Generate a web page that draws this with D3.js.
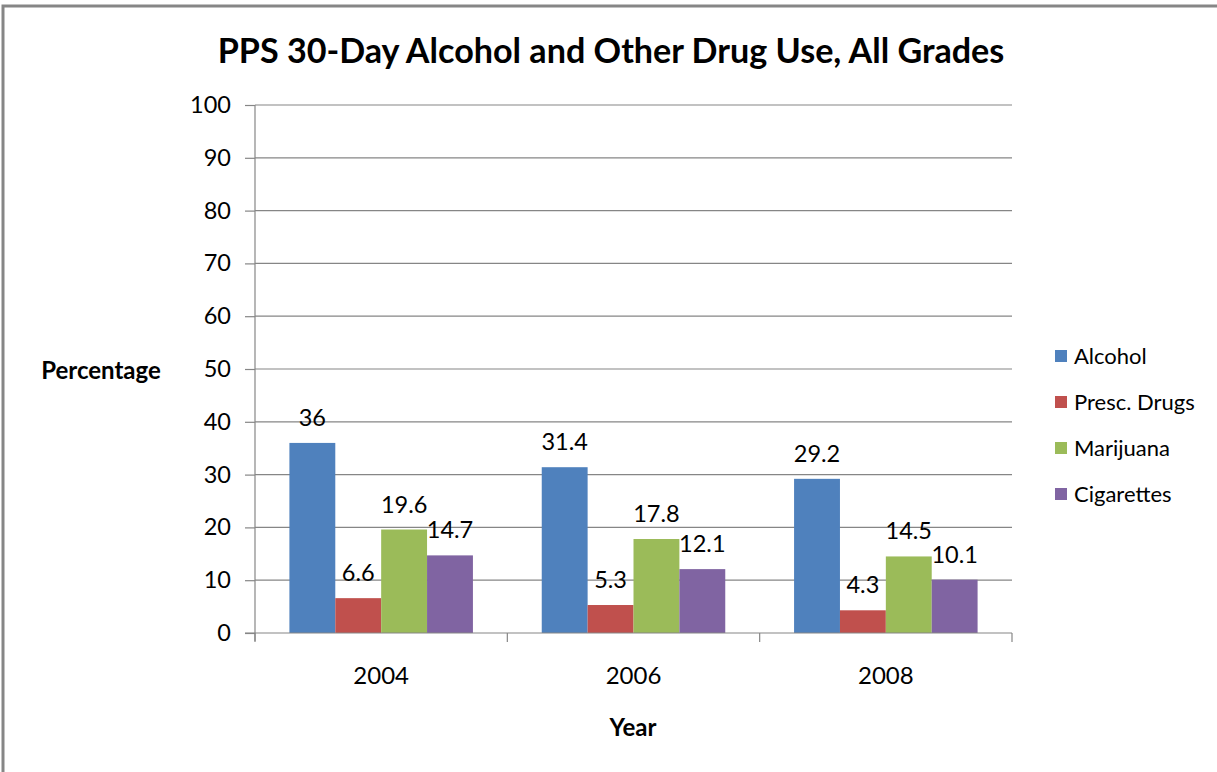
<!DOCTYPE html>
<html><head><meta charset="utf-8">
<script src="https://cdn.jsdelivr.net/npm/d3@7"></script>
<style>html,body{margin:0;padding:0;background:#fff;} svg{display:block;}</style>
</head><body>
<svg id="c" width="1217" height="772"></svg>
<script>
const years = ["2004", "2006", "2008"];
const seriesNames = ["Alcohol", "Presc. Drugs", "Marijuana", "Cigarettes"];
const alcohol = [36, 31.4, 29.2];
const prescDrugs = [6.6, 5.3, 4.3];
const marijuana = [19.6, 17.8, 14.5];
const cigarettes = [14.7, 12.1, 10.1];
const yTickValues = [0, 10, 20, 30, 40, 50, 60, 70, 80, 90, 100];
const colors = ["#4F81BD", "#C0504D", "#9BBB59", "#8064A2"];

const seriesValues = [alcohol, prescDrugs, marijuana, cigarettes];
const FONT = "Lato, 'Open Sans', sans-serif";
const svg = d3.select("#c");

// chart border
svg.append("path").attr("d", "M3,772 V6 H1217").attr("fill", "none")
  .attr("stroke", "#868686").attr("stroke-width", 3);

const L = 255, R = 1012, T = 105, B = 633;
const y = d3.scaleLinear().domain([0, 100]).range([B, T]);
const x0 = d3.scaleBand().domain(years).range([L, R]).padding(0);
const x1 = d3.scaleBand().domain(seriesNames).range([0, x0.bandwidth()]).paddingInner(0).paddingOuter(0.75);

// gridlines
svg.append("g").selectAll("line").data(yTickValues.filter(v => v > 0)).join("line")
  .attr("x1", L).attr("x2", R).attr("y1", d => y(d)).attr("y2", d => y(d))
  .attr("stroke", "#868686").attr("stroke-width", 1.2);

// y axis
const yAxis = svg.append("g").attr("transform", `translate(${L},0)`)
  .call(d3.axisLeft(y).tickValues(yTickValues).tickSize(10).tickPadding(14));
yAxis.select(".domain").attr("stroke", "#868686").attr("stroke-width", 1.2).attr("d", `M0,${T}V${B + 8}`);
yAxis.selectAll(".tick line").attr("stroke", "#868686").attr("stroke-width", 1.2);
yAxis.selectAll(".tick text").attr("font-family", FONT).attr("font-size", 23.5).attr("fill", "#000");

// bars
const groups = svg.append("g").selectAll("g").data(years).join("g")
  .attr("transform", d => `translate(${x0(d)},0)`);
groups.selectAll("rect").data((d, i) => seriesNames.map((s, j) => ({s, j, v: seriesValues[j][i]}))).join("rect")
  .attr("x", d => x1(d.s)).attr("width", x1.bandwidth())
  .attr("y", d => y(d.v)).attr("height", d => y(0) - y(d.v))
  .attr("fill", d => colors[d.j]);
groups.selectAll("text").data((d, i) => seriesNames.map((s, j) => ({s, j, v: seriesValues[j][i]}))).join("text")
  .attr("x", d => x1(d.s) + x1.bandwidth() / 2).attr("y", d => y(d.v) - 17)
  .attr("text-anchor", "middle").attr("font-family", FONT).attr("font-size", 23.5).attr("fill", "#000")
  .text(d => d.v);

// x axis
const xAxis = svg.append("g").attr("transform", `translate(0,${B})`);
xAxis.append("line").attr("x1", L - 10).attr("x2", R).attr("stroke", "#868686").attr("stroke-width", 1.2);
const bounds = years.map(d => x0(d)).concat([R]);
xAxis.selectAll("line.t").data(bounds).join("line").attr("class", "t")
  .attr("x1", d => d).attr("x2", d => d).attr("y1", 0).attr("y2", 9)
  .attr("stroke", "#868686").attr("stroke-width", 1.2);
xAxis.selectAll("text").data(years).join("text")
  .attr("x", d => x0(d) + x0.bandwidth() / 2).attr("y", 51)
  .attr("text-anchor", "middle").attr("font-family", FONT).attr("font-size", 24).attr("fill", "#000")
  .text(d => d);

// title
const title = svg.append("text").attr("x", 611).attr("y", 63).attr("text-anchor", "middle")
  .attr("font-family", FONT).attr("font-weight", "bold").attr("font-size", 31).attr("fill", "#000")
  .text("PPS 30-Day Alcohol and Other Drug Use, All Grades");
const tw = title.node().getComputedTextLength();
title.attr("font-size", 31 * 787 / tw);

// axis titles
svg.append("text").attr("x", 101).attr("y", 379).attr("text-anchor", "middle")
  .attr("font-family", FONT).attr("font-weight", "bold").attr("font-size", 24).text("Percentage");
svg.append("text").attr("x", 633).attr("y", 736).attr("text-anchor", "middle")
  .attr("font-family", FONT).attr("font-weight", "bold").attr("font-size", 24).text("Year");

// legend
const leg = svg.append("g").selectAll("g").data(seriesNames).join("g")
  .attr("transform", (d, i) => `translate(1055,${356 + i * 46})`);
leg.append("rect").attr("x", 0).attr("y", -6).attr("width", 12).attr("height", 12)
  .attr("fill", (d, i) => colors[i]);
leg.append("text").attr("x", 19).attr("y", 8).attr("font-family", FONT).attr("font-size", 22)
  .attr("fill", "#000").text(d => d);
</script>
</body></html>
